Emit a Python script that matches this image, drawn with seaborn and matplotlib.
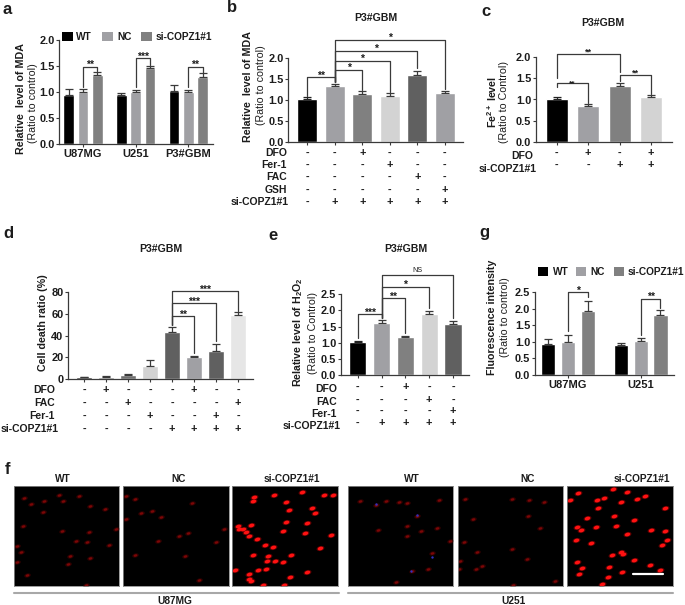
import numpy as np
import pandas as pd
import matplotlib
matplotlib.use("Agg")
import matplotlib.pyplot as plt
from matplotlib.patches import Rectangle
from matplotlib.lines import Line2D
from matplotlib.path import Path
from matplotlib.transforms import Affine2D, blended_transform_factory
import seaborn as sns

# panel a
a_groups = ["U87MG", "U251", "P3#GBM"]
a_wt = [0.94, 0.94, 1.01]
a_nc = [1.00, 1.00, 1.00]
a_si = [1.33, 1.455, 1.28]
a_wt_top = [1.05, 0.99, 1.13]
a_nc_top = [1.06, 1.04, 1.03]
a_si_top = [1.39, 1.50, 1.36]

# panel b
b_vals = [1.02, 1.34, 1.15, 1.09, 1.59, 1.17]
b_tops = [1.06, 1.39, 1.21, 1.16, 1.69, 1.22]
b_rows = {
    "DFO": "--+---",
    "Fer-1": "---+--",
    "FAC": "----+-",
    "GSH": "-----+",
    "si-COPZ1#1": "-+++++",
}

# panel c
c_vals = [1.02, 0.85, 1.32, 1.07]
c_tops = [1.06, 0.885, 1.40, 1.11]
c_rows = {"DFO": "-+-+", "si-COPZ1#1": "--++"}

# panel d
d_vals = [1.2, 1.5, 3.0, 11.7, 43.5, 20.0, 25.3, 59.0]
d_tops = [1.5, 2.5, 4.0, 17.0, 48.0, 21.3, 32.0, 61.4]
d_rows = {
    "DFO": "-+---+--",
    "FAC": "--+----+",
    "Fer-1": "---+--+-",
    "si-COPZ1#1": "----++++",
}

# panel e
e_vals = [1.01, 1.61, 1.19, 1.885, 1.59]
e_tops = [1.045, 1.70, 1.21, 1.99, 1.68]
e_rows = {
    "DFO": "--+--",
    "FAC": "---+-",
    "Fer-1": "----+",
    "si-COPZ1#1": "-++++",
}

# panel g
g_groups = ["U87MG", "U251"]
g_wt = [0.92, 0.90]
g_nc = [1.00, 1.01]
g_si = [1.93, 1.80]
g_wt_top = [1.07, 0.97]
g_nc_top = [1.21, 1.12]
g_si_top = [2.23, 1.95]

# panel f, cell spots
f1_cells = [(72,220),(133,228),(188,228),(237,215),(176,210),(92,238),(130,262),(270,244),(315,253),(70,305),
            (186,320),(267,322),(347,313),(227,348),(262,352),(326,360),(52,365),(62,383),(270,400),(203,417),
            (210,393),(52,412),(80,450),(257,480)]
f2_cells = [(405,222),(378,214),(576,235),(424,265),(455,260),(482,277),(378,283),(537,334),(565,324),(474,348),
            (406,390),(556,395),(598,465),(673,314),(648,353)]
f3_cells = [(763,216),(759,229),(822,212),(905,203),(972,211),(1000,210),(858,231),(868,255),(936,250),(946,266),
            (859,291),(921,294),(753,302),(714,305),(716,313),(730,314),(738,322),(746,335),(772,344),(850,320),
            (914,325),(992,330),(794,360),(818,367),(960,371),(758,390),(873,392),(804,395),(802,408),(824,408),
            (848,411),(704,437),(773,437),(797,433),(748,448),(746,462),(754,470),(870,456),(920,442),(789,480),(852,482)]
f4_cells = [(60,230),(107,240),(138,230),(177,232),(202,235),(297,225),(232,273),(202,305),(113,316),(292,311),
            (243,320),(200,334),(329,350),(275,386),(265,434),(217,438),(167,472)]
f4_blue = [(108,238),(232,272),(277,398),(212,438)]
f5_cells = [(374,224),(517,222),(567,226),(612,231),(563,274),(398,283),(600,311),(373,353),(515,373),(411,382),
            (561,404),(361,408),(427,424),(407,433),(357,432),(520,480),(645,470)]
f6_cells = [(820,193),(860,202),(713,205),(772,226),(792,221),(842,232),(892,224),(916,214),(689,225),(775,251),
            (822,274),(742,281),(975,251),(883,287),(827,303),(712,306),(723,316),(768,307),(862,327),(934,316),
            (975,320),(709,347),(753,355),(980,347),(967,360),(815,390),(843,381),(850,388),(881,406),(710,411),
            (930,420),(808,426),(726,431),(960,437),(718,449),(804,456),(845,443),(785,479)]

W, H = 685, 605
BLACK, MID, DARK, LIGHT, DEEP = "#000000", "#a0a0a4", "#808080", "#d3d3d3", "#606060"
INK = "#1c1c1c"
LINE = "#3a3a3a"

sns.set_style("ticks")
plt.rcParams["font.family"] = ["Liberation Sans", "DejaVu Sans"]
plt.rcParams["mathtext.fontset"] = "custom"
plt.rcParams["mathtext.rm"] = "Liberation Sans"
plt.rcParams["mathtext.bf"] = "Liberation Sans:bold"

fig = plt.figure(figsize=(W / 100, H / 100), dpi=100)
cell_marker = Path.unit_circle().transformed(Affine2D().scale(1, 0.62).rotate_deg(15))


def ptext(x, y, s, size=7, weight="bold", color=INK, **kw):
    kw.setdefault("ha", "center")
    kw.setdefault("va", "center")
    fig.text(x / W, 1 - y / H, s, fontsize=size, fontweight=weight, color=color, **kw)


def make_axes(left, right, y0, ytop, ylim, yticks, xlim, fmt="%.1f"):
    ax = fig.add_axes([left / W, 1 - y0 / H, (right - left) / W, (y0 - ytop) / H])
    ax.set_ylim(*ylim)
    ax.set_yticks(yticks)
    ax.set_yticklabels([fmt % t for t in yticks], fontsize=7.9, fontweight="bold", color=INK)
    ax._want_xlim = xlim
    return ax


def finish_axes(ax):
    ax.set_xlim(*ax._want_xlim)
    ax.set_xlabel("")
    ax.set_ylabel("")
    sns.despine(ax=ax)
    for side in ["left", "bottom"]:
        ax.spines[side].set_linewidth(0.9)
        ax.spines[side].set_color(LINE)
    ax.tick_params(axis="both", length=2.2, width=0.8, color=LINE, pad=1.2)


def add_errors(ax, xs, vals, tops, color):
    vals = np.array(vals)
    tops = np.array(tops)
    ax.errorbar(xs, vals, yerr=[np.zeros(len(vals)), tops - vals], fmt="none",
                ecolor=color, elinewidth=0.9, capsize=2.6, capthick=0.9, clip_on=False)


def single_bars(ax, vals, tops, colors, width):
    names = [str(i) for i in range(len(vals))]
    sns.barplot(x=names, y=vals, hue=names, palette=colors, legend=False, saturation=1,
                width=width, errorbar=None, ax=ax)
    for i in range(len(vals)):
        add_errors(ax, [i], [vals[i]], [tops[i]], LINE if colors[i] != BLACK else "#222222")
    ax.set_xticks(range(len(vals)))
    ax.set_xticklabels([])
    finish_axes(ax)


def group_bars(ax, groups, series, tops, width, gap):
    names = ["WT", "NC", "si-COPZ1#1"]
    df = pd.DataFrame({
        "group": [g for g in groups for _ in names],
        "kind": names * len(groups),
        "value": [series[j][i] for i in range(len(groups)) for j in range(3)],
    })
    sns.barplot(data=df, x="group", y="value", hue="kind", hue_order=names,
                palette=[BLACK, MID, DARK], legend=False, saturation=1,
                width=width, gap=gap, errorbar=None, ax=ax)
    centers = []
    for j, cont in enumerate(list(ax.containers)):
        xs = [b.get_x() + b.get_width() / 2 for b in cont]
        centers.append(xs)
        add_errors(ax, xs, series[j], tops[j], LINE)
    ax.tick_params(axis="x", labelsize=8)
    for lab in ax.get_xticklabels():
        lab.set_fontweight("bold")
        lab.set_color(INK)
    finish_axes(ax)
    return centers


def bracket(ax, x1, x2, y1, top, y2, label, size=7.5, off=-1, weight="bold"):
    ax.add_line(Line2D([x1, x1, x2, x2], [y1, top, top, y2], color=LINE, lw=0.9, clip_on=False))
    ax.annotate(label, ((x1 + x2) / 2, top), xytext=(0, off), textcoords="offset points",
                ha="center", va="baseline", fontsize=size, fontweight=weight, color=INK,
                annotation_clip=False)


def sign_rows(ax, rows, row_y, label_y, label_right):
    trans = blended_transform_factory(ax.transData, fig.transFigure)
    for (name, signs), sy, ly, rx in zip(rows.items(), row_y, label_y, label_right):
        ptext(rx, ly, name, ha="right", size=7.5)
        for i, s in enumerate(signs):
            ax.text(i, 1 - sy / H, s, transform=trans, ha="center", va="center",
                    fontsize=7.8, fontweight="bold", color=INK)


def legend_row(xs, text_xs, y_top, size, labels_y):
    for x, tx, col, name in zip(xs, text_xs, [BLACK, MID, DARK], ["WT", "NC", "si-COPZ1#1"]):
        fig.add_artist(Rectangle((x / W, 1 - (y_top + size[1]) / H), size[0] / W, size[1] / H,
                                 transform=fig.transFigure, color=col, lw=0))
        ptext(tx, labels_y, name, ha="left", size=7.3)


# a
ax = make_axes(59.3, 213.3, 144, 40, (0, 2), [0, 0.5, 1, 1.5, 2], (-0.45, 2.475))
cx = group_bars(ax, a_groups, [a_wt, a_nc, a_si], [a_wt_top, a_nc_top, a_si_top], 0.815, 0.25)
bracket(ax, cx[1][0], cx[2][0], 1.09, 1.49, 1.40, "**")
bracket(ax, cx[1][1], cx[2][1], 1.09, 1.65, 1.52, "***")
bracket(ax, cx[1][2], cx[2][2], 1.09, 1.49, 1.37, "**")
legend_row([62, 102, 141], [76, 117, 156], 32, (10.5, 9), 37)
ptext(7, 10, "a", size=12)
ptext(21, 99, "Relative  level of MDA", rotation=90, size=7.7)
ptext(33, 103, "(Ratio to control)", rotation=90, size=7.7, weight="normal")

# b
ax = make_axes(288.3, 463.3, 141.7, 58.3, (0, 2), [0, 0.5, 1, 1.5, 2], (-0.69, 5.67))
single_bars(ax, b_vals, b_tops, [BLACK, MID, DARK, LIGHT, DEEP, MID], 0.72)
bracket(ax, 0, 1, 1.10, 1.55, 1.44, "**")
bracket(ax, 1, 2, 1.44, 1.73, 1.24, "*")
bracket(ax, 1, 3, 1.44, 1.94, 1.20, "*")
bracket(ax, 1, 4, 1.44, 2.18, 1.76, "*")
bracket(ax, 1, 5, 1.44, 2.44, 1.26, "*")
sign_rows(ax, b_rows, [153, 165, 177, 190, 202], [153, 165, 177, 190, 202], [287, 287, 287, 287, 289])
ptext(232, 8, "b", size=12)
ptext(376, 18, "P3#GBM", size=7.6)
ptext(248, 87, "Relative  level of MDA", rotation=90, size=7.7)
ptext(261, 85, "(Ratio to control)", rotation=90, size=7.7, weight="normal")

# c
ax = make_axes(536, 672.3, 141.7, 57.3, (0, 2), [0, 0.5, 1, 1.5, 2], (-0.66, 3.68))
single_bars(ax, c_vals, c_tops, [BLACK, MID, DARK, LIGHT], 0.70)
bracket(ax, 0, 1, 1.29, 1.38, 0.91, "**", size=6)
bracket(ax, 0, 2, 1.50, 2.09, 1.66, "**", size=6.5)
bracket(ax, 2, 3, 1.45, 1.59, 1.13, "**", size=6.5)
sign_rows(ax, c_rows, [153, 165], [156, 169], [533, 537])
ptext(486, 12, "c", size=12)
ptext(603, 23, "P3#GBM", size=7.6)
ptext(492, 102, r"Fe$^{\mathbf{2+}}$ level", rotation=90, size=7.7)
ptext(504, 102, "(Ratio to Control)", rotation=90, size=7.7, weight="normal")

# d
ax = make_axes(68.3, 253, 378.7, 292.3, (0, 80), [0, 20, 40, 60, 80], (-0.71, 7.68), fmt="%d")
single_bars(ax, d_vals, d_tops, ["#222222", "#8c8c8c", "#707070", LIGHT, DEEP, MID, DEEP, "#e6e6e6"], 0.727)
bracket(ax, 4, 5, 49.7, 58, 23.5, "**")
bracket(ax, 4, 6, 49.7, 69.8, 35, "***")
bracket(ax, 4, 7, 49.7, 81, 63, "***")
sign_rows(ax, d_rows, [390, 403, 416, 429], [390, 403, 416, 429], [55, 55, 55, 59])
ptext(8, 234, "d", size=12)
ptext(161, 249, "P3#GBM", size=7.6)
ptext(43, 323, "Cell death ratio (%)", rotation=90, size=7.7)

# e
ax = make_axes(341, 469, 375.3, 294, (0, 2.5), [0, 0.5, 1, 1.5, 2, 2.5], (-0.70, 4.67))
single_bars(ax, e_vals, e_tops, [BLACK, MID, DARK, LIGHT, DEEP], 0.727)
bracket(ax, 0, 1, 1.14, 1.875, 1.75, "***")
bracket(ax, 1, 2, 1.75, 2.37, 1.31, "**")
bracket(ax, 1, 3, 1.75, 2.72, 2.06, "*")
bracket(ax, 1, 4, 1.75, 3.07, 1.77, "NS", size=5.2, off=2.6, weight="normal")
sign_rows(ax, e_rows, [387, 400, 411, 423], [389, 402, 414, 426], [337, 337, 337, 341])
ptext(273, 235, "e", size=12)
ptext(406, 249, "P3#GBM", size=7.6)
ptext(298, 332, r"Relative level of H$_{\mathbf{2}}$O$_{\mathbf{2}}$", rotation=90, size=7.7)
ptext(313, 333, "(Ratio to Control)", rotation=90, size=7.7, weight="normal")

# g
ax = make_axes(535, 674.3, 375, 292, (0, 2.5), [0, 0.5, 1, 1.5, 2, 2.5], (-0.454, 1.463))
cx = group_bars(ax, g_groups, [g_wt, g_nc, g_si], [g_wt_top, g_nc_top, g_si_top], 0.819, 0.28)
bracket(ax, cx[1][0], cx[2][0], 1.335, 2.5, 2.34, "*")
bracket(ax, cx[1][1], cx[2][1], 1.20, 2.30, 2.01, "**")
legend_row([538, 576, 614], [552.5, 590, 628], 267, (10, 9), 272)
ptext(484, 232, "g", size=12)
ptext(492, 317, "Fluorescence intensity", rotation=90, size=7.7)
ptext(505, 317, "(Ratio to control)", rotation=90, size=7.7, weight="normal")


# f, the micrographs
def micrograph(left, right, cells, xlim, dim=True, blue=None, scale_bar=None):
    ax = fig.add_axes([left / W, 1 - 586 / H, (right - left) / W, 100 / H])
    ax.set_facecolor("black")
    xs = [c[0] for c in cells]
    ys = [c[1] for c in cells]
    if dim:
        sns.scatterplot(x=xs, y=ys, s=24, color="#2c0000", marker=cell_marker, linewidth=0, ax=ax, legend=False)
        sns.scatterplot(x=xs, y=ys, s=8, color="#7c0606", marker=cell_marker, linewidth=0, ax=ax, legend=False)
    else:
        sns.scatterplot(x=xs, y=ys, s=34, color="#5a0000", marker=cell_marker, linewidth=0, ax=ax, legend=False)
        sns.scatterplot(x=xs, y=ys, s=17, color="#ff1212", marker=cell_marker, linewidth=0, ax=ax, legend=False)
    if blue:
        sns.scatterplot(x=[c[0] for c in blue], y=[c[1] for c in blue], s=3, color="#3030c0",
                        linewidth=0, ax=ax, legend=False)
    if scale_bar:
        ax.plot(scale_bar[0], scale_bar[1], color="white", lw=1.6)
    ax.set_xlim(*xlim)
    ax.set_ylim(484, 184)
    ax.set_xticks([])
    ax.set_yticks([])
    ax.set_xlabel("")
    ax.set_ylabel("")
    for s in ax.spines.values():
        s.set_color("#8a8a8a")
        s.set_linewidth(0.6)


micrograph(14, 119.3, f1_cells, (42, 358))
micrograph(123.3, 228.7, f2_cells, (370, 686))
micrograph(232.3, 338.3, f3_cells, (697, 1015), dim=False)
micrograph(347.7, 453.3, f4_cells, (23, 340), blue=f4_blue)
micrograph(457.7, 563, f5_cells, (353, 669))
micrograph(567.3, 672.7, f6_cells, (682, 998), dim=False, scale_bar=([879, 968], [449, 449]))

for x, name in zip([63, 179, 292, 412, 528, 642], ["WT", "NC", "si-COPZ1#1"] * 2):
    ptext(x, 479, name, size=7.3)
for x1, x2, name, tx in [(14, 339, "U87MG", 175), (348, 673, "U251", 513)]:
    fig.add_artist(Line2D([x1 / W, x2 / W], [1 - 593 / H] * 2, color="#a8a8a8", lw=1.5,
                          transform=fig.transFigure))
    ptext(tx, 601, name, size=7.3)
ptext(8, 469, "f", size=12)

fig.savefig("out.png", dpi=100)
